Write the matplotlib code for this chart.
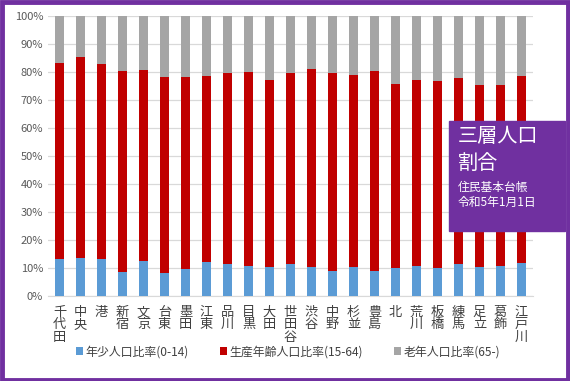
import numpy as np
import matplotlib
matplotlib.use('Agg')
import matplotlib.pyplot as plt
from matplotlib.patches import Rectangle

plt.rcParams['font.family'] = ['Noto Sans CJK JP', 'DejaVu Sans']

# wards
wards = ['千代田', '中央', '港', '新宿', '文京', '台東', '墨田', '江東', '品川', '目黒',
         '大田', '世田谷', '渋谷', '中野', '杉並', '豊島', '北', '荒川', '板橋', '練馬',
         '足立', '葛飾', '江戸川']

# % values
young = np.array([13.2, 13.6, 13.2, 8.6, 12.5, 8.2, 9.6, 12.1, 11.4, 10.7,
                  10.4, 11.4, 10.4, 8.9, 10.4, 8.9, 10.0, 10.7, 10.0, 11.4,
                  10.4, 10.7, 11.8])
young_plus_work = np.array([83.3, 85.4, 82.9, 80.5, 80.7, 78.2, 78.2, 78.6, 79.8, 80.1,
                            77.1, 79.7, 81.1, 79.6, 78.9, 80.4, 75.7, 77.1, 76.8, 77.9,
                            75.4, 75.4, 78.6])
working = young_plus_work - young
old = 100 - young_plus_work

labels = ['年少人口比率(0-14)', '生産年齢人口比率(15-64)', '老年人口比率(65-)']
colors = ['#5B9BD5', '#C00000', '#A5A5A5']
purple = '#7030A0'

fig = plt.figure(figsize=(5.7, 3.81), dpi=100)
ax = fig.add_axes([48/570, 1 - 296/381, (533-48)/570, (296-16)/381])

x = np.arange(len(wards))
w = 0.43
ax.bar(x, young / 100, w, color=colors[0], label=labels[0], zorder=3)
ax.bar(x, working / 100, w, bottom=young / 100, color=colors[1], label=labels[1], zorder=3)
ax.bar(x, old / 100, w, bottom=young_plus_work / 100, color=colors[2], label=labels[2], zorder=3)

ax.set_ylim(0, 1)
ax.set_xlim(-0.55, len(wards) - 0.45)
ax.set_yticks(np.arange(0, 1.01, 0.1))
ax.set_yticklabels([f'{int(v)}%' for v in np.arange(0, 101, 10)], fontsize=8, color='#595959')
ax.grid(axis='y', color='#D9D9D9', lw=0.9, zorder=0)
for s in ['top', 'right', 'left']:
    ax.spines[s].set_visible(False)
ax.spines['bottom'].set_color('#D9D9D9')
ax.tick_params(length=0)
ax.set_xticks(x)
ax.set_xticklabels(['\n'.join(n) for n in wards], fontsize=9.5, color='#404040',
                   linespacing=0.95, va='top')
ax.tick_params(axis='x', pad=7)

fig.legend(loc='center', bbox_to_anchor=(0.505, 1 - 352/381), ncol=3, frameon=False,
           fontsize=8.6, handlelength=0.6, handleheight=0.6, handletextpad=0.2,
           columnspacing=2.6, labelcolor='#404040')

# annotation box
fig.patches.append(Rectangle((449/570, 1 - 231/381), 116/570, 110/381,
                             transform=fig.transFigure, color=purple, zorder=5))
fig.text(458/570, 1 - 137/381, '三層人口', color='white', fontsize=14.5, va='center', zorder=6)
fig.text(458/570, 1 - 163/381, '割合', color='white', fontsize=14.5, va='center', zorder=6)
fig.text(458/570, 1 - 188/381, '住民基本台帳', color='white', fontsize=8.5, va='center', zorder=6)
fig.text(458/570, 1 - 202/381, '令和5年1月1日', color='white', fontsize=8.5, va='center', zorder=6)

# purple frame
fig.patches.append(Rectangle((1.5/570, 1.5/381), 566/570, 378/381, transform=fig.transFigure,
                             fill=False, ec=purple, lw=3.5, zorder=10))

fig.savefig('out.png', dpi=100)
